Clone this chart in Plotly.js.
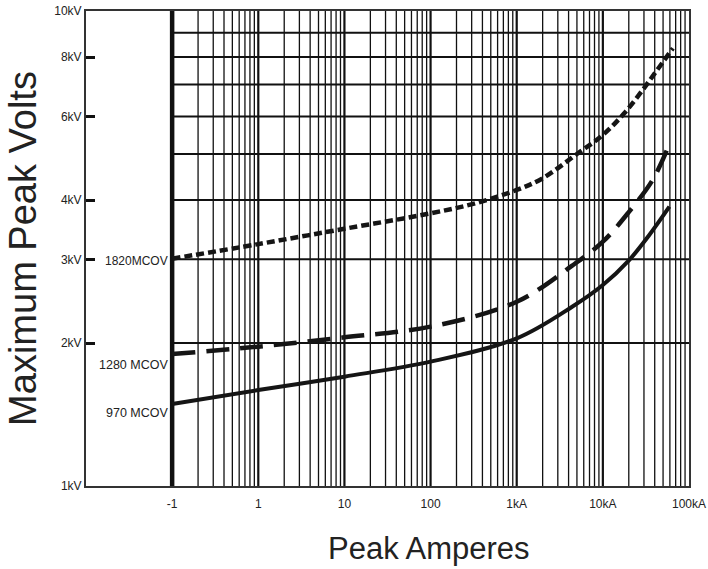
<!DOCTYPE html>
<html><head><meta charset="utf-8">
<script src="https://cdn.plot.ly/plotly-3.0.1.min.js"></script>
<style>html,body{margin:0;padding:0;background:#fff}</style>
</head><body><div id="chart" style="width:708px;height:569px"></div>
<script>
// Tick labels
const xTickVals = [0.1, 1, 10, 100, 1000, 10000, 100000];
const xTickText = ['-1', '1', '10', '100', '1kA', '10kA', '100kA'];
const yTickVals = [1, 2, 3, 4, 6, 8, 10];
const yTickText = ['1kV', '2kV', '3kV', '4kV', '6kV', '8kV', '10kV'];

// Series (peak amperes, maximum peak kV)
const amps970 = [0.1, 1, 10, 100, 1000, 4400, 10000, 20200, 34600, 59200];
const kv970   = [1.488, 1.592, 1.699, 1.827, 2.046, 2.385, 2.65, 2.99, 3.376, 3.873];
const amps1280 = [0.1, 1, 10, 100, 1000, 4400, 10000, 20200, 37800, 56600];
const kv1280   = [1.896, 1.965, 2.056, 2.165, 2.443, 2.91, 3.268, 3.781, 4.408, 5.14];
const amps1820 = [0.1, 1, 10, 100, 330, 1000, 2000, 5000, 10000, 17700, 29000, 40000, 65000];
const kv1820   = [3.01, 3.23, 3.48, 3.75, 3.937, 4.2, 4.444, 5.0, 5.483, 6.09, 6.82, 7.39, 8.35];
const labels = ['970 MCOV', '1280 MCOV', '1820MCOV'];
const xTitle = 'Peak Amperes';
const yTitle = 'Maximum Peak Volts';

// Grid values
const gridStart = 0.1, gridEnd = 100000;
const vGrid = [];
for (let d = -1; d <= 4; d++) for (let k = 1; k <= 9; k++) vGrid.push(k * Math.pow(10, d));
const hGrid = [2, 3, 4, 5, 6, 7, 8, 9];

const shapes = [];
vGrid.forEach(v => {
  const major = Math.abs(Math.log10(v) - Math.round(Math.log10(v))) < 1e-9;
  shapes.push({type: 'line', layer: 'below', xref: 'x', yref: 'y', x0: v, x1: v, y0: 1, y1: 10,
    line: {color: '#111', width: v === gridStart ? 4.5 : (major ? 2.2 : 1.3)}});
});
hGrid.forEach(v => {
  shapes.push({type: 'line', layer: 'below', xref: 'x', yref: 'y', x0: gridStart, x1: gridEnd, y0: v, y1: v,
    line: {color: '#111', width: 2}});
});

const font = 'Liberation Sans, Arial, Helvetica, sans-serif';
const traces = [
  {x: amps970, y: kv970, name: labels[0], mode: 'lines', line: {color: '#151515', width: 4, shape: 'spline'}},
  {x: amps1280, y: kv1280, name: labels[1], mode: 'lines', line: {color: '#151515', width: 4.5, dash: '23px,11px', shape: 'spline'}},
  {x: amps1820, y: kv1820, name: labels[2], mode: 'lines', line: {color: '#151515', width: 4.5, dash: '8px,4px', shape: 'spline'}}
];

const annotations = [
  {xref: 'x', yref: 'y', x: Math.log10(amps970[0]), y: Math.log10(kv970[0]), text: labels[0], showarrow: false, xanchor: 'right', xshift: -2, yshift: -9, font: {family: font, size: 12.5, color: '#222'}},
  {xref: 'x', yref: 'y', x: Math.log10(amps1280[0]), y: Math.log10(kv1280[0]), text: labels[1], showarrow: false, xanchor: 'right', xshift: -2, yshift: -11, font: {family: font, size: 12.5, color: '#222'}},
  {xref: 'x', yref: 'y', x: Math.log10(amps1820[0]), y: Math.log10(kv1820[0]), text: labels[2], showarrow: false, xanchor: 'right', xshift: -2, yshift: -2, font: {family: font, size: 12, color: '#222'}},
  {xref: 'paper', yref: 'paper', x: 0.569, y: -0.1726, text: xTitle, showarrow: false, xanchor: 'center', yanchor: 'bottom', font: {family: font, size: 31, color: '#222'}}
];

const layout = {
  width: 708, height: 569,
  margin: {l: 86, r: 19, t: 11, b: 83},
  paper_bgcolor: '#fff', plot_bgcolor: '#fff',
  showlegend: false,
  font: {family: font, color: '#222'},
  xaxis: {
    type: 'log', range: [-2, 5], tickvals: xTickVals, ticktext: xTickText,
    showgrid: false, zeroline: false, ticks: '', showline: true, mirror: true, ticklabelstandoff: 6,
    linecolor: '#333', linewidth: 2, tickfont: {size: 12, color: '#222'}
  },
  yaxis: {
    type: 'log', range: [0, 1], tickvals: yTickVals, ticktext: yTickText,
    showgrid: false, zeroline: false, ticks: 'inside', ticklen: 9, tickwidth: 3, tickcolor: '#111',
    showline: true, mirror: true, linecolor: '#333', linewidth: 2, tickfont: {size: 12, color: '#222'},
    title: {text: yTitle, font: {size: 38, color: '#222'}, standoff: 6}
  },
  shapes: shapes,
  annotations: annotations
};

Plotly.newPlot('chart', traces, layout, {displayModeBar: false, staticPlot: true});
</script></body></html>
